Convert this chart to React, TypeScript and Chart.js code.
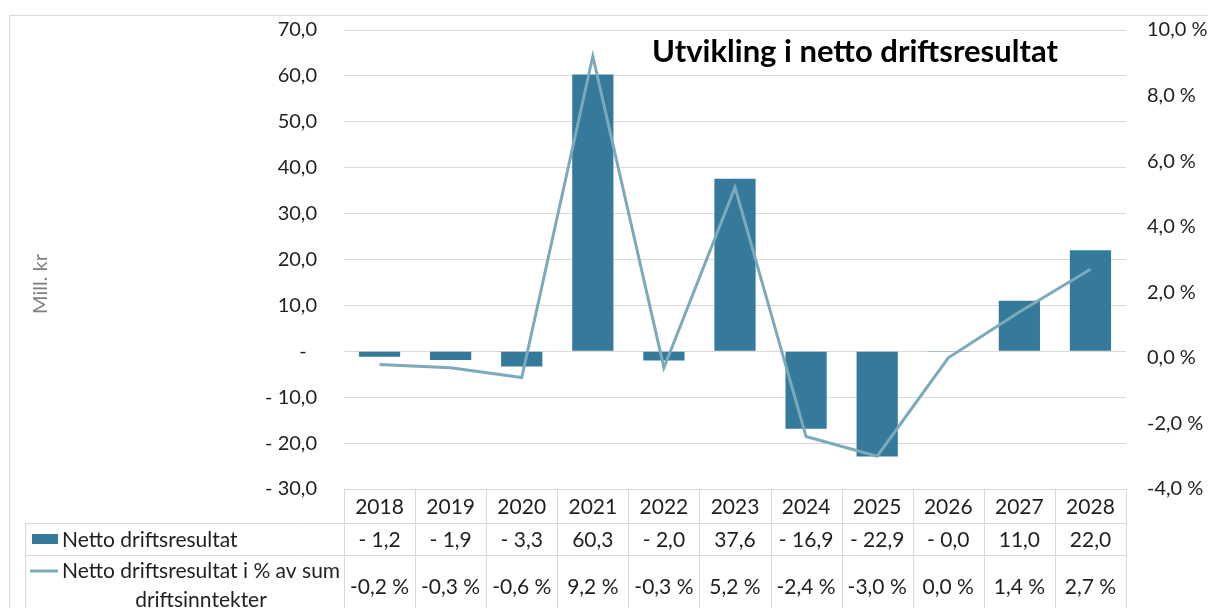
import { useEffect, useRef } from "react";
import { Chart, registerables } from "chart.js";

Chart.register(...registerables);

const categories = ["2018", "2019", "2020", "2021", "2022", "2023", "2024", "2025", "2026", "2027", "2028"];
const nettoDriftsresultat = [-1.2, -1.9, -3.3, 60.3, -2.0, 37.6, -16.9, -22.9, -0.04, 11.0, 22.0];
const nettoProsent = [-0.2, -0.3, -0.6, 9.2, -0.3, 5.2, -2.4, -3.0, 0.0, 1.4, 2.7];
const leftAxis = { min: -30, max: 70, step: 10 };
const rightAxis = { min: -4, max: 10, step: 2 };
const barName = "Netto driftsresultat";
const lineNameLines = ["Netto driftsresultat i % av sum", "driftsinntekter"];
const chartTitle = "Utvikling i netto driftsresultat";
const yAxisTitle = "Mill. kr";

const BAR_COLOR = "#357A9A";
const LINE_COLOR = "#7BAABA";
const GRID = "#d9d9d9";
const TEXT = "#1f1f1f";
const FONT = "Lato";

const fmtKr = (v: number) => {
  if (v === 0) return "-  ";
  const s = Math.abs(v).toFixed(1).replace(".", ",");
  return v < 0 ? "- " + s : s;
};
const fmtPct = (v: number) => v.toFixed(1).replace(".", ",") + " %";

const tablePlugin = {
  id: "dataTable",
  beforeDraw(chart: any) {
    const ctx = chart.ctx;
    ctx.save();
    ctx.fillStyle = "#ffffff";
    ctx.fillRect(0, 0, chart.width, chart.height);
    ctx.strokeStyle = GRID;
    ctx.lineWidth = 1;
    ctx.strokeRect(9.5, 15.5, chart.width + 40, chart.height + 40);
    ctx.restore();
  },
  afterDraw(chart: any) {
    const { ctx, chartArea } = chart;
    const xs = chart.scales.x;
    const n = categories.length;
    const half = (xs.getPixelForValue(1) - xs.getPixelForValue(0)) / 2;
    const L = chartArea.left;
    const R = chartArea.right;
    const T = chartArea.bottom;
    const r1 = T + 34;
    const r2 = r1 + 32;
    const r3 = r2 + 64;
    const labelLeft = 25;
    ctx.save();
    ctx.strokeStyle = GRID;
    ctx.lineWidth = 1;
    const hl = (x1: number, x2: number, y: number) => {
      ctx.beginPath();
      ctx.moveTo(x1, Math.round(y) + 0.5);
      ctx.lineTo(x2, Math.round(y) + 0.5);
      ctx.stroke();
    };
    const vl = (x: number, y1: number, y2: number) => {
      ctx.beginPath();
      ctx.moveTo(Math.round(x) + 0.5, y1);
      ctx.lineTo(Math.round(x) + 0.5, y2);
      ctx.stroke();
    };
    hl(L, R, T);
    hl(labelLeft, R, r1);
    hl(labelLeft, R, r2);
    hl(labelLeft, R, r3);
    for (let i = 0; i < n; i++) vl(xs.getPixelForValue(i) - half, T, r3);
    vl(xs.getPixelForValue(n - 1) + half, T, r3);
    vl(labelLeft, r1, r3);

    ctx.fillStyle = TEXT;
    ctx.font = `21px ${FONT}`;
    ctx.textAlign = "center";
    ctx.textBaseline = "middle";
    for (let i = 0; i < n; i++) {
      const cx = xs.getPixelForValue(i);
      ctx.fillText(categories[i], cx, (T + r1) / 2 + 1);
      ctx.fillText(fmtKr(nettoDriftsresultat[i]).trim(), cx, (r1 + r2) / 2 + 1);
      ctx.fillText(fmtPct(nettoProsent[i]), cx, r2 + 32);
    }
    // legend keys and labels
    ctx.fillStyle = BAR_COLOR;
    ctx.fillRect(32, (r1 + r2) / 2 - 5, 26, 10);
    ctx.fillStyle = TEXT;
    ctx.textAlign = "left";
    ctx.fillText(barName, 62, (r1 + r2) / 2 + 1);
    ctx.strokeStyle = LINE_COLOR;
    ctx.lineWidth = 3;
    ctx.beginPath();
    ctx.moveTo(30, r2 + 16);
    ctx.lineTo(58, r2 + 16);
    ctx.stroke();
    ctx.fillText(lineNameLines[0], 62, r2 + 16);
    ctx.textAlign = "center";
    ctx.fillText(lineNameLines[1], 201, r2 + 45);

    // y axis title
    ctx.save();
    ctx.translate(41, 284);
    ctx.rotate(-Math.PI / 2);
    ctx.fillStyle = "#808080";
    ctx.font = `20px ${FONT}`;
    ctx.textAlign = "center";
    ctx.textBaseline = "middle";
    ctx.fillText(yAxisTitle, 0, 0);
    ctx.restore();

    // title
    ctx.font = `bold 31px ${FONT}`;
    ctx.textAlign = "center";
    ctx.textBaseline = "alphabetic";
    ctx.fillStyle = "#000000";
    ctx.fillText(chartTitle, 855, 62);
    ctx.restore();
  },
};

export default function App() {
  const ref = useRef<HTMLCanvasElement | null>(null);
  useEffect(() => {
    if (!ref.current) return;
    const chart = new Chart(ref.current, {
      type: "bar",
      data: {
        labels: categories,
        datasets: [
          {
            type: "line",
            label: lineNameLines.join(" "),
            data: nettoProsent,
            yAxisID: "y1",
            borderColor: LINE_COLOR,
            backgroundColor: LINE_COLOR,
            borderWidth: 3,
            pointRadius: 0,
            tension: 0,
            order: 0,
          } as any,
          {
            type: "bar",
            label: barName,
            data: nettoDriftsresultat,
            yAxisID: "y",
            backgroundColor: BAR_COLOR,
            barPercentage: 0.58,
            categoryPercentage: 1,
            order: 1,
          },
        ],
      },
      options: {
        animation: false,
        responsive: false,
        devicePixelRatio: 1,
        layout: { padding: { top: 30, bottom: 119, left: 0, right: 0 } },
        plugins: {
          legend: { display: false },
          tooltip: { enabled: false },
          title: { display: false },
        },
        scales: {
          x: { type: "category", display: false, offset: true },
          y: {
            position: "left",
            min: leftAxis.min,
            max: leftAxis.max,
            afterFit: (s: any) => {
              s.width = 344;
              s.paddingTop = 0;
              s.paddingBottom = 0;
            },
            ticks: {
              stepSize: leftAxis.step,
              padding: 27,
              color: TEXT,
              font: { family: FONT, size: 20 },
              callback: (v: any) => fmtKr(Number(v)),
            },
            grid: { color: GRID, drawTicks: false, lineWidth: 1 },
            border: { display: false },
          },
          y1: {
            position: "right",
            min: rightAxis.min,
            max: rightAxis.max,
            afterFit: (s: any) => {
              s.width = 82;
              s.paddingTop = 0;
              s.paddingBottom = 0;
            },
            ticks: {
              stepSize: rightAxis.step,
              padding: 21,
              color: TEXT,
              font: { family: FONT, size: 20 },
              callback: (v: any) => fmtPct(Number(v)),
            },
            grid: { display: false, drawTicks: false },
            border: { display: false },
          },
        },
      },
      plugins: [tablePlugin],
    });
    return () => chart.destroy();
  }, []);
  return (
    <div style={{ position: "absolute", left: 0, top: 0, width: 1208, height: 608 }}>
      <canvas ref={ref} width={1208} height={608} style={{ display: "block" }} />
    </div>
  );
}
